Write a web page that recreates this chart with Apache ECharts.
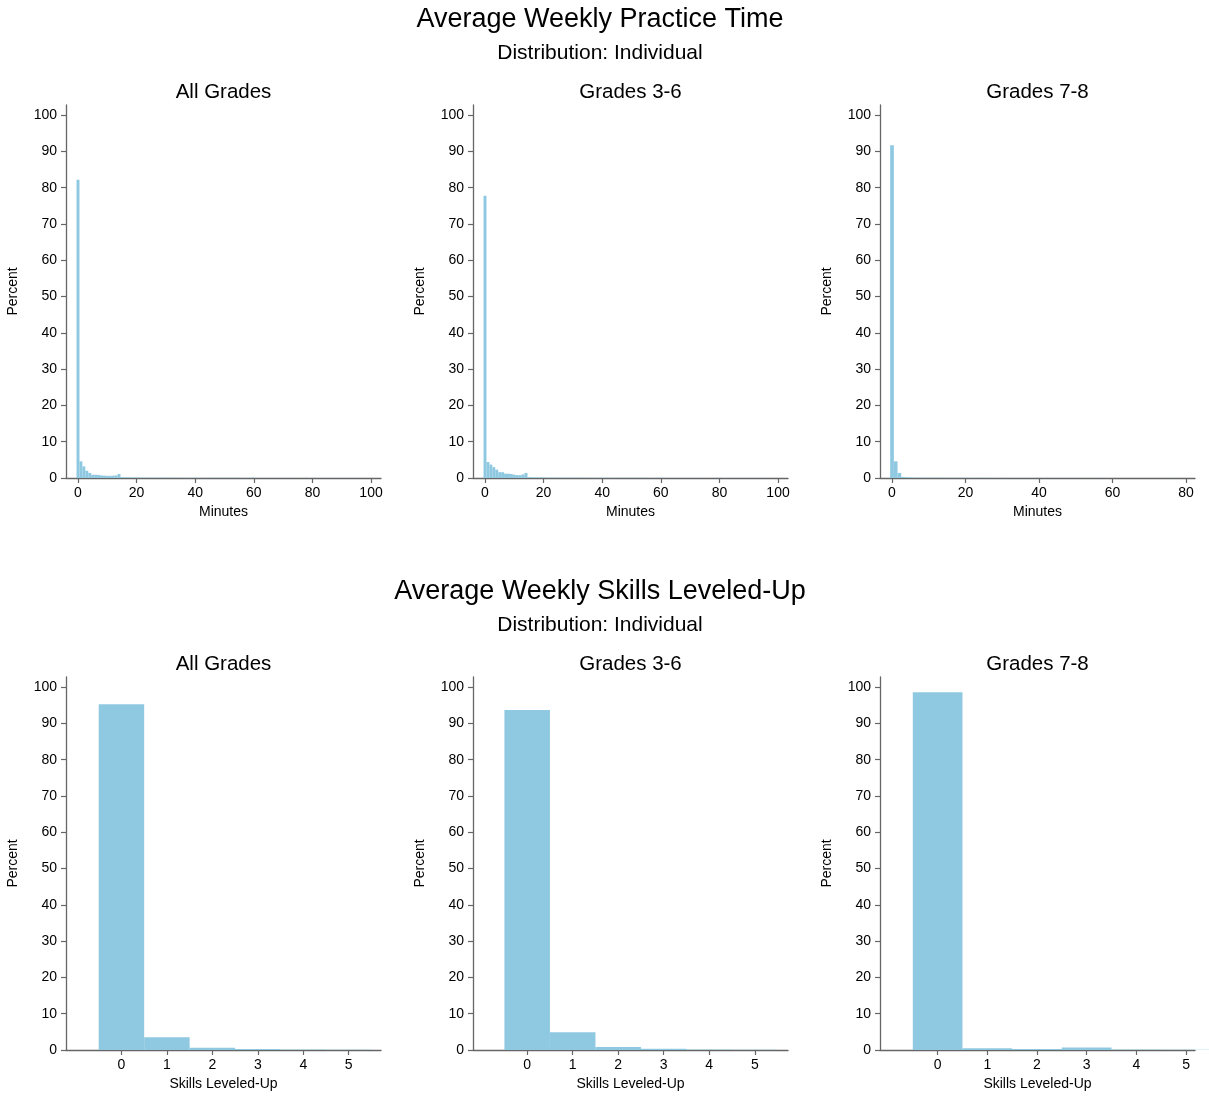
<!DOCTYPE html>
<html>
<head>
<meta charset="utf-8">
<script src="https://cdn.jsdelivr.net/npm/echarts@6/dist/echarts.min.js"></script>
<style>
html,body{margin:0;padding:0;background:#fff;}
#chart{width:1209px;height:1099px;}
</style>
</head>
<body>
<div id="chart"></div>
<script>
// ---------- data ----------
const rowTitles = ['Average Weekly Practice Time', 'Average Weekly Skills Leveled-Up'];
const rowSubtitle = 'Distribution: Individual';
const panelTitles = ['All Grades', 'Grades 3-6', 'Grades 7-8'];
const xNames = ['Minutes', 'Skills Leveled-Up'];
const yName = 'Percent';

// Practice minutes histograms (bins of width 1, starting at 0)
const practiceAll = [
  82.2, 4.6, 3.2, 2.0, 1.4, 0.9, 0.9, 0.85, 0.7, 0.65,
  0.6, 0.6, 0.65, 0.7, 1.1, 0.25, 0.2, 0.18, 0.15, 0.15,
  0.15, 0.12, 0.12, 0.1, 0.1, 0.12, 0.1, 0.1, 0.1, 0.1,
  0.12, 0.08, 0.1, 0.08, 0.06, 0.08, 0.06, 0.07, 0.05, 0.06,
  0.1, 0.05, 0.06, 0.04, 0.06, 0.08, 0.05, 0.06, 0.08, 0.05,
  0.06, 0.08, 0.05, 0.06, 0.08, 0.05, 0.06, 0.05, 0.04, 0.06,
  0.1, 0.03, 0.04, 0.03, 0.06, 0.03, 0.03, 0.05, 0.03, 0.02,
  0.06, 0.02, 0.03, 0.02, 0.06, 0.02, 0.03, 0.02, 0.06, 0.03,
  0.06, 0.02, 0.03, 0.02, 0.05, 0.03, 0.02, 0.05, 0.02, 0.03,
  0.05, 0.02, 0.03, 0.05, 0.02, 0.05, 0.02, 0.02, 0.03, 0.02,
  0.04
];
const practice36 = [
  77.8, 4.4, 3.7, 3.0, 2.3, 1.6, 1.6, 1.2, 1.2, 1.1,
  0.9, 0.8, 0.8, 1.0, 1.4, 0.25, 0.2, 0.18, 0.16, 0.15,
  0.15, 0.12, 0.12, 0.1, 0.1, 0.12, 0.1, 0.1, 0.1, 0.1,
  0.12, 0.08, 0.1, 0.08, 0.06, 0.08, 0.06, 0.07, 0.05, 0.06,
  0.1, 0.05, 0.06, 0.04, 0.06, 0.08, 0.05, 0.06, 0.08, 0.05,
  0.06, 0.08, 0.05, 0.06, 0.08, 0.05, 0.06, 0.05, 0.04, 0.06,
  0.1, 0.03, 0.04, 0.03, 0.06, 0.03, 0.03, 0.05, 0.03, 0.02,
  0.06, 0.02, 0.03, 0.02, 0.06, 0.02, 0.03, 0.02, 0.06, 0.03,
  0.06, 0.02, 0.03, 0.02, 0.05, 0.03, 0.02, 0.05, 0.02, 0.03,
  0.05, 0.02, 0.03, 0.05, 0.02, 0.05, 0.02, 0.02, 0.03, 0.02,
  0.04
];
const practice78 = [
  91.7, 4.6, 1.4, 0.3, 0.2, 0.15, 0.12, 0.1, 0.1, 0.1,
  0.08, 0.08, 0.1, 0.07, 0.08, 0.06, 0.06, 0.08, 0.05, 0.06,
  0.08, 0.05, 0.06, 0.05, 0.06, 0.05, 0.05, 0.06, 0.04, 0.05,
  0.06, 0.04, 0.05, 0.04, 0.05, 0.04, 0.04, 0.05, 0.04, 0.04,
  0.06, 0.03, 0.04, 0.03, 0.05, 0.03, 0.03, 0.04, 0.03, 0.03,
  0.04, 0.02, 0.03, 0.02, 0.03, 0.02, 0.05, 0.02, 0.02, 0.02,
  0.03, 0.02, 0.02, 0.02, 0.02, 0.02, 0.02, 0.02, 0.02, 0.02,
  0.02, 0.02, 0.02, 0.02, 0.02, 0.02, 0.04, 0.02, 0.02, 0.02,
  0.02
];

// Skills leveled-up histograms (bins centered on 0..5)
const skillsAll = [95.3, 3.5, 0.65, 0.3, 0.12, 0.05];
const skills36  = [93.7, 4.9, 0.8, 0.35, 0.12, 0.05];
const skills78  = [98.6, 0.5, 0.3, 0.7, 0.15, 0.05];

// tick labels
const minutesTicksWide = [0, 20, 40, 60, 80, 100];
const minutesTicks78 = [0, 20, 40, 60, 80];
const skillsTicks = [0, 1, 2, 3, 4, 5];

// ---------- layout ----------
const BAR_COLOR = '#8fc9e1';
const AXIS_COLOR = '#666';
const FONT = "'Liberation Sans', Arial, Helvetica, sans-serif";

const gridLefts = [66, 473, 880];
const gridWidth = 315;
const rowTops = [105, 677];
const gridHeight = 373;

const xRanges = [
  [[-4.1, 103.4], [-4.1, 103.4], [-3.27, 82.45]],
  [[-1.22, 5.71], [-1.19, 5.73], [-1.16, 5.18]]
];
const xTicks = [
  [minutesTicksWide, minutesTicksWide, minutesTicks78],
  [skillsTicks, skillsTicks, skillsTicks]
];
const seriesData = [
  [practiceAll, practice36, practice78],
  [skillsAll, skills36, skills78]
];

const grids = [], xAxes = [], yAxes = [], series = [], titles = [];

const rowTitleTops = [6, 578];
const rowSubTops = [43, 615];
const panelTitleTops = [82, 654];

for (let r = 0; r < 2; r++) {
  titles.push({
    text: rowTitles[r], left: 600, top: rowTitleTops[r], textAlign: 'center', padding: 0,
    textStyle: {fontFamily: FONT, fontSize: 27, fontWeight: 'normal', color: '#000'}
  });
  titles.push({
    text: rowSubtitle, left: 600, top: rowSubTops[r], textAlign: 'center', padding: 0,
    textStyle: {fontFamily: FONT, fontSize: 21, fontWeight: 'normal', color: '#000'}
  });
  for (let c = 0; c < 3; c++) {
    const idx = r * 3 + c;
    titles.push({
      text: panelTitles[c], left: gridLefts[c] + gridWidth / 2, top: panelTitleTops[r], textAlign: 'center', padding: 0,
      textStyle: {fontFamily: FONT, fontSize: 20.5, fontWeight: 'normal', color: '#000'}
    });
    grids.push({left: gridLefts[c], top: rowTops[r], width: gridWidth, height: gridHeight, containLabel: false});
    xAxes.push({
      type: 'value', gridIndex: idx,
      min: xRanges[r][c][0], max: xRanges[r][c][1],
      name: xNames[r], nameLocation: 'middle', nameGap: 27,
      nameTextStyle: {fontFamily: FONT, fontSize: 14, color: '#000'},
      axisLine: {show: true, onZero: false, lineStyle: {color: AXIS_COLOR, width: 1.3}},
      axisTick: {show: true, length: 5, lineStyle: {color: AXIS_COLOR, width: 1.2}, customValues: xTicks[r][c]},
      axisLabel: {fontFamily: FONT, fontSize: 14, color: '#000', margin: 8, customValues: xTicks[r][c]},
      splitLine: {show: false}
    });
    yAxes.push({
      type: 'value', gridIndex: idx,
      min: 0, max: 102.8, interval: 10,
      name: yName, nameLocation: 'middle', nameGap: 46, nameRotate: 90,
      nameTextStyle: {fontFamily: FONT, fontSize: 14, color: '#000'},
      axisLine: {show: true, onZero: false, lineStyle: {color: AXIS_COLOR, width: 1.3}},
      axisTick: {show: true, length: 5, lineStyle: {color: AXIS_COLOR, width: 1.2}},
      axisLabel: {fontFamily: FONT, fontSize: 14, color: '#000', margin: 9, showMaxLabel: false},
      splitLine: {show: false}
    });
    const data = seriesData[r][c].map((v, i) => [i, v]);
    series.push({
      type: 'custom', xAxisIndex: idx, yAxisIndex: idx, data: data,
      renderItem: function (params, api) {
        const x = api.value(0), y = api.value(1);
        const p0 = api.coord([x - 0.5, y]);
        const p1 = api.coord([x + 0.5, 0]);
        return {
          type: 'rect',
          shape: {x: p0[0], y: p0[1], width: p1[0] - p0[0], height: p1[1] - p0[1]},
          style: {fill: BAR_COLOR}
        };
      }
    });
  }
}

const chart = echarts.init(document.getElementById('chart'), null, {renderer: 'canvas'});
chart.setOption({
  backgroundColor: '#fff',
  animation: false,
  title: titles,
  grid: grids,
  xAxis: xAxes,
  yAxis: yAxes,
  series: series
});
</script>
</body>
</html>
